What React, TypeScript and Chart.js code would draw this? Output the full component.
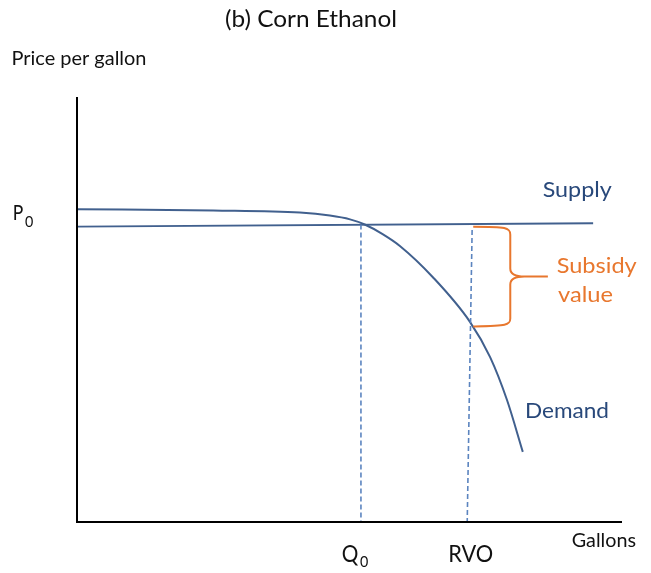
import React, { useEffect, useRef } from "react";
import { Chart, registerables } from "chart.js";

Chart.register(...registerables);

// Data (x: gallons scale 0-100, y: price scale 0-100)
const axisPoints = [
  { x: 0, y: 100 },
  { x: 0, y: 0 },
  { x: 100, y: 0 },
];
const supplyX = [0, 94.7];
const supplyY = [69.5, 70.3];
const demandX = [0, 25, 40.9, 46.4, 50.1, 52.8, 56.0, 59.3, 65.3, 72.1, 75.8, 78.9, 81.8];
const demandY = [73.6, 73.3, 72.8, 72.1, 71.2, 70.0, 67.8, 64.9, 57.6, 47.1, 38.8, 28.7, 16.5];
const q0X = [52.1, 52.1];
const q0Y = [70.0, 0];
const rvoX = [72.5, 71.6];
const rvoY = [68.7, 0];
// Brace: [xLeft, spineX, tipX], [top, bottom]
const braceX = [72.7, 79.5, 86.4];
const braceY = [69.5, 46.0];

const FONT = "Lato, 'Open Sans', sans-serif";

type Label = { text: string; x: number; base: number; w: number; size: number; color: string };
const labels: Label[] = [
  { text: "(b) Corn Ethanol", x: 225, base: 27, w: 172, size: 24, color: "#111111" },
  { text: "Price per gallon", x: 11.5, base: 65, w: 135, size: 19, color: "#111111" },
  { text: "P", x: 12.7, base: 219.5, w: 10.5, size: 21, color: "#111111" },
  { text: "0", x: 25, base: 227, w: 8.3, size: 16, color: "#111111" },
  { text: "Supply", x: 542.7, base: 197.3, w: 69, size: 22, color: "#28487a" },
  { text: "Subsidy", x: 556.7, base: 273.3, w: 80, size: 22, color: "#e8772e" },
  { text: "value", x: 558, base: 301.7, w: 55, size: 22, color: "#e8772e" },
  { text: "Demand", x: 525, base: 418, w: 84, size: 21.5, color: "#28487a" },
  { text: "Q", x: 341.7, base: 561.7, w: 16.6, size: 23.5, color: "#111111" },
  { text: "0", x: 360, base: 566.7, w: 8.3, size: 16, color: "#111111" },
  { text: "RVO", x: 448.3, base: 561.7, w: 45, size: 23.5, color: "#111111" },
  { text: "Gallons", x: 571.7, base: 546.7, w: 64.3, size: 19.5, color: "#111111" },
];

const zip = (xs: number[], ys: number[]) => xs.map((x, i) => ({ x, y: ys[i] }));

const overlayPlugin = {
  id: "overlay",
  afterDraw(chart: any) {
    const ctx = chart.ctx as CanvasRenderingContext2D;
    const xs = chart.scales.x;
    const ys = chart.scales.y;
    // brace
    const xl = xs.getPixelForValue(braceX[0]);
    const sp = xs.getPixelForValue(braceX[1]);
    const tip = xs.getPixelForValue(braceX[2]);
    const top = ys.getPixelForValue(braceY[0]);
    const bot = ys.getPixelForValue(braceY[1]);
    const mid = (top + bot) / 2;
    ctx.save();
    ctx.strokeStyle = "#e8772e";
    ctx.lineWidth = 2;
    ctx.lineJoin = "round";
    ctx.beginPath();
    ctx.moveTo(xl, top);
    ctx.bezierCurveTo(sp - 4, top, sp, top + 1, sp, top + 8);
    ctx.lineTo(sp, mid - 8);
    ctx.quadraticCurveTo(sp, mid, sp + 14, mid);
    ctx.lineTo(tip, mid);
    ctx.moveTo(sp + 14, mid);
    ctx.quadraticCurveTo(sp, mid, sp, mid + 8);
    ctx.lineTo(sp, bot - 8);
    ctx.bezierCurveTo(sp, bot - 1, sp - 4, bot - 1, xl, bot);
    ctx.stroke();
    ctx.restore();
    // labels
    for (const l of labels) {
      ctx.save();
      ctx.font = `${l.size}px ${FONT}`;
      ctx.fillStyle = l.color;
      ctx.textBaseline = "alphabetic";
      ctx.textAlign = "left";
      const m = ctx.measureText(l.text).width;
      ctx.translate(l.x, l.base);
      ctx.scale(l.w / m, 1);
      ctx.fillText(l.text, 0, 0);
      ctx.restore();
    }
  },
};

export default function App() {
  const ref = useRef<HTMLCanvasElement | null>(null);
  useEffect(() => {
    if (!ref.current) return;
    const lineBase = { pointRadius: 0, showLine: true, clip: false as any, fill: false };
    const chart = new Chart(ref.current, {
      type: "scatter",
      data: {
        datasets: [
          { ...lineBase, data: axisPoints, borderColor: "#000000", borderWidth: 2 },
          { ...lineBase, data: zip(q0X, q0Y), borderColor: "#5b84bf", borderWidth: 1.6, borderDash: [5, 3] },
          { ...lineBase, data: zip(rvoX, rvoY), borderColor: "#5b84bf", borderWidth: 1.6, borderDash: [5, 3] },
          { ...lineBase, data: zip(supplyX, supplyY), borderColor: "#41608e", borderWidth: 2 },
          {
            ...lineBase,
            data: zip(demandX, demandY),
            borderColor: "#41608e",
            borderWidth: 2,
            cubicInterpolationMode: "monotone",
          } as any,
        ],
      },
      options: {
        responsive: false,
        animation: false,
        layout: { padding: { left: 77, right: 29, top: 97, bottom: 51 } },
        plugins: { legend: { display: false }, tooltip: { enabled: false }, title: { display: false } },
        events: [],
        scales: {
          x: { type: "linear", min: 0, max: 100, display: false },
          y: { type: "linear", min: 0, max: 100, display: false },
        },
      },
      plugins: [overlayPlugin],
    });
    return () => chart.destroy();
  }, []);
  return (
    <div style={{ position: "absolute", left: 0, top: 0, width: 651, height: 573, background: "#ffffff" }}>
      <canvas ref={ref} width={651} height={573} style={{ display: "block" }} />
    </div>
  );
}
